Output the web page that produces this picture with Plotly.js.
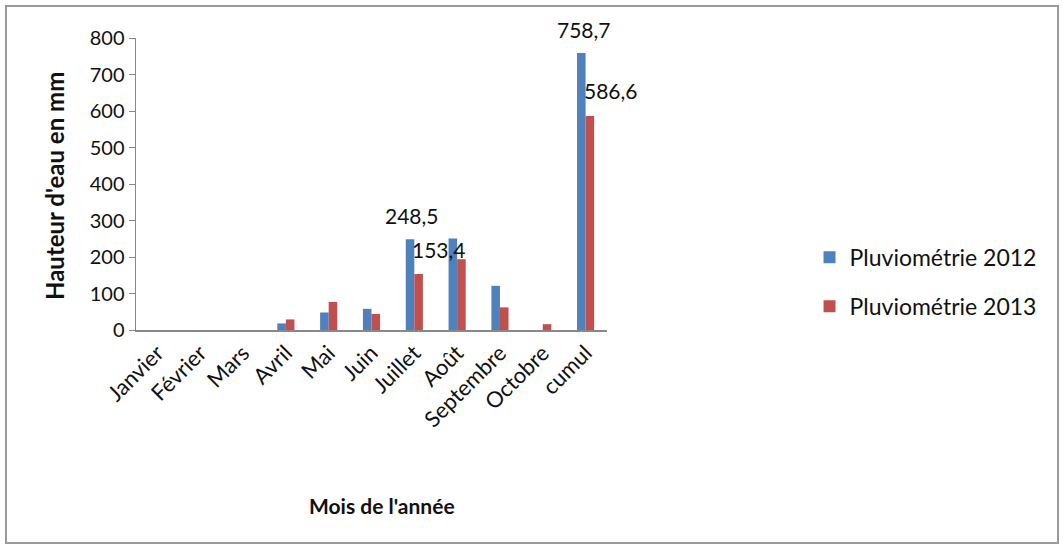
<!DOCTYPE html>
<html>
<head>
<meta charset="utf-8">
<script src="https://cdn.plot.ly/plotly-3.0.1.min.js"></script>
<style>
html,body{margin:0;padding:0;background:#fff;}
#wrap{position:relative;width:1063px;height:548px;}
#chart{position:absolute;left:0;top:0;width:1063px;height:548px;}
#frame{position:absolute;left:5px;top:5px;width:1050px;height:535px;border:2px solid #9a9a9a;pointer-events:none;}
</style>
</head>
<body>
<div id="wrap"><div id="chart"></div><div id="frame"></div></div>
<script>
const months = ['Janvier','Février','Mars','Avril','Mai','Juin','Juillet','Août','Septembre','Octobre','cumul'];
const rain2012 = [0, 0, 0, 18, 48, 58, 248.5, 251, 121, 0, 758.7];
const rain2013 = [0, 0, 0, 29, 77, 44, 153.4, 194, 62, 16, 586.6];
const labeled2012 = ['Juillet','cumul'];
const labeled2013 = ['Juillet','cumul'];
const yTicks = [0,100,200,300,400,500,600,700,800];

const fontFam = 'Lato, "Open Sans", sans-serif';
const fmt = v => v.toFixed(1).replace('.', ',');

const traces = [
  {type:'bar', name:'Pluviométrie 2012', x:months, y:rain2012, marker:{color:'#4F81BD'}, legendgroup:'a'},
  {type:'bar', name:'Pluviométrie 2013', x:months, y:rain2013, marker:{color:'#C0504D'}, legendgroup:'b'}
];

const annotations = [];
labeled2012.forEach(m => {
  const i = months.indexOf(m);
  annotations.push({x:m, y:rain2012[i], text:fmt(rain2012[i]), showarrow:false, xshift:-2, yshift:24, font:{family:fontFam, size:21, color:'#111'}});
});
labeled2013.forEach(m => {
  const i = months.indexOf(m);
  annotations.push({x:m, y:rain2013[i], text:fmt(rain2013[i]), showarrow:false, xshift:25, yshift:25, font:{family:fontFam, size:21, color:'#111'}});
});
annotations.push({xref:'paper', yref:'paper', x:0.5, y:0, xshift:10, yshift:-175, xanchor:'center', yanchor:'middle', showarrow:false,
  text:"<b>Mois de l'année</b>", font:{family:fontFam, size:21, color:'#111'}});
annotations.push({xref:'paper', yref:'paper', x:0, y:0.5, xshift:-82, yshift:-2, xanchor:'center', yanchor:'middle', showarrow:false, textangle:-90,
  text:"<b>Hauteur d'eau en mm</b>", font:{family:fontFam, size:24, color:'#111'}});

const layout = {
  width:1063, height:548,
  margin:{l:136, r:456, t:38, b:218},
  paper_bgcolor:'#fff', plot_bgcolor:'#fff',
  font:{family:fontFam, size:20, color:'#111'},
  barmode:'group', bargap:0.6, bargroupgap:0,
  showlegend:true,
  legend:{x:1.43, y:0.165, xanchor:'left', yanchor:'middle', font:{family:fontFam, size:23, color:'#111'},
          traceorder:'grouped', tracegroupgap:16, itemwidth:30},
  xaxis:{type:'category', range:[-0.5, months.length - 0.5], tickangle:-45, showline:true, linecolor:'#888', linewidth:1.5, ticks:'', showgrid:false, automargin:false,
         tickfont:{family:fontFam, size:22, color:'#111'}},
  yaxis:{range:[0,800], tickvals:yTicks, showline:true, linecolor:'#888', linewidth:1.5, ticks:'outside', ticklen:6, tickcolor:'#888',
         showgrid:false, zeroline:false, automargin:false, tickfont:{family:fontFam, size:20, color:'#111'}},
  annotations:annotations
};

Plotly.newPlot('chart', traces, layout, {displayModeBar:false, staticPlot:true});
</script>
</body>
</html>
